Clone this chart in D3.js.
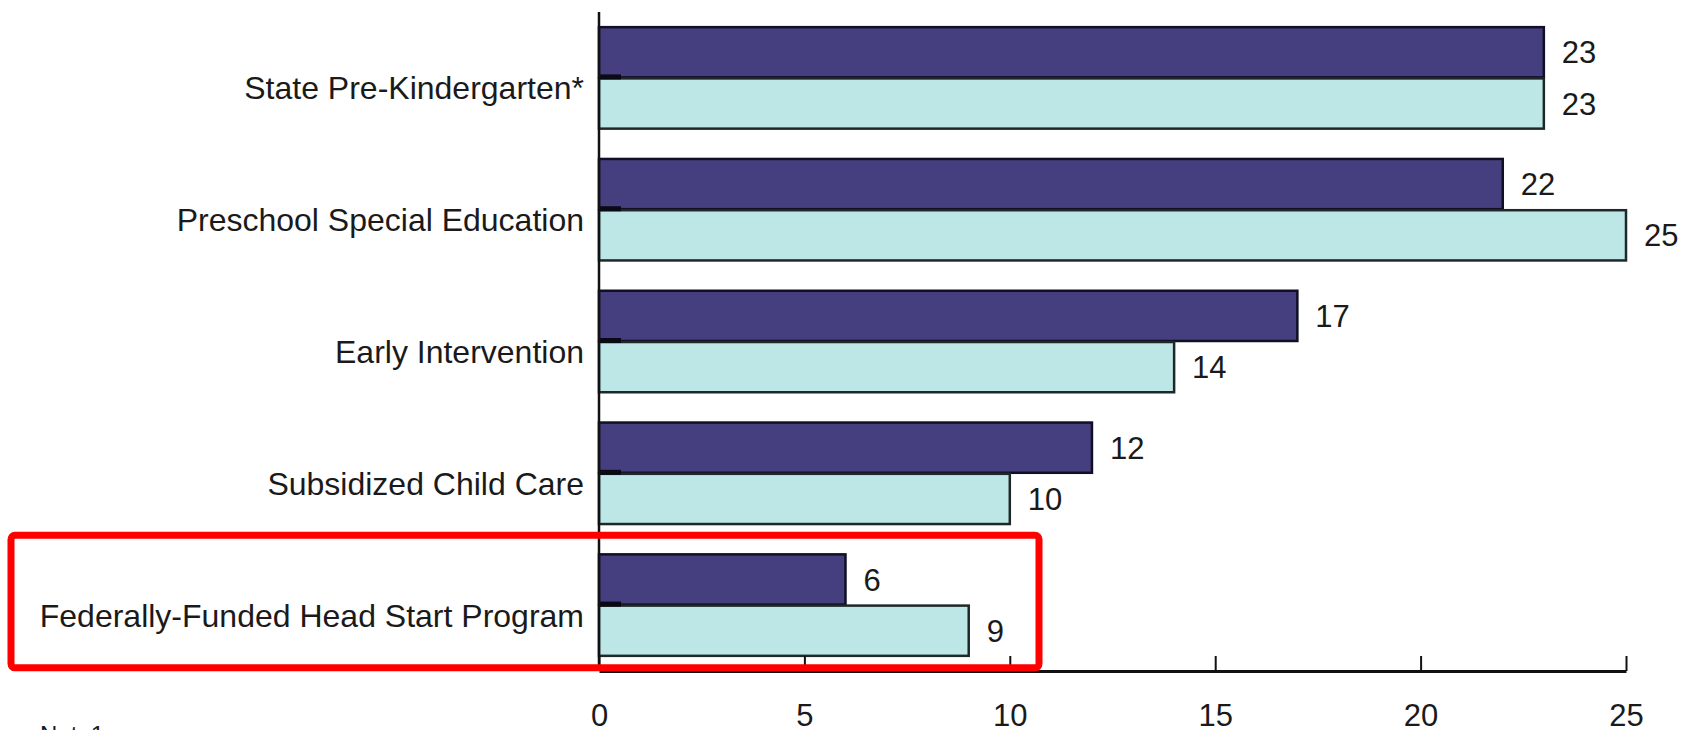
<!DOCTYPE html>
<html lang="en">
<head>
<meta charset="utf-8">
<title>Program bars</title>
<script src="https://d3js.org/d3.v7.min.js"></script>
<style>
  body { margin: 0; background: #fff; overflow: hidden; }
  text { font-family: "Liberation Sans", Arial, sans-serif; fill: #1a1a1a; }
</style>
</head>
<body>
<script>
// data
const categories = ["State Pre-Kindergarten*", "Preschool Special Education", "Early Intervention",
  "Subsidized Child Care", "Federally-Funded Head Start Program"];
const seriesDark = [23, 22, 17, 12, 6];
const seriesLight = [23, 25, 14, 10, 9];
const xTicks = [0, 5, 10, 15, 20, 25];

const width = 1683, height = 730;
const plot = { left: 599, right: 1626, top: 12, bottom: 671 };

const svg = d3.select("body").append("svg")
  .attr("width", width)
  .attr("height", height);

const x = d3.scaleLinear().domain([0, 25]).range([plot.left, plot.right]);
const y = d3.scaleBand().domain(categories).range([plot.top, plot.bottom])
  .paddingInner(0.23).paddingOuter(0.115);
const sub = d3.scaleBand().domain(["dark", "light"]).range([0, y.bandwidth()]).paddingInner(0.02);

const rows = categories.map((c, i) => ({ cat: c, dark: seriesDark[i], light: seriesLight[i] }));

const groups = svg.selectAll("g.row")
  .data(rows)
  .enter().append("g")
  .attr("class", "row")
  .attr("transform", d => "translate(0," + y(d.cat) + ")");

const series = [
  { key: "dark", fill: "#453f80", stroke: "#100f24" },
  { key: "light", fill: "#bde7e6", stroke: "#1f2828" }
];

series.forEach(s => {
  groups.append("rect")
    .attr("x", x(0))
    .attr("y", sub(s.key))
    .attr("width", d => x(d[s.key]) - x(0))
    .attr("height", sub.bandwidth())
    .attr("fill", s.fill)
    .attr("stroke", s.stroke)
    .attr("stroke-width", 2.5);

  groups.append("text")
    .attr("x", d => x(d[s.key]) + 18)
    .attr("y", sub(s.key) + sub.bandwidth() / 2)
    .attr("dy", "0.36em")
    .attr("font-size", 31)
    .text(d => d[s.key]);
});

// little dark shadow where the two bars meet at the axis
groups.append("rect")
  .attr("x", x(0))
  .attr("y", sub("light") - 4)
  .attr("width", 22)
  .attr("height", 5)
  .attr("fill", "#0a0a14");

// category labels
groups.append("text")
  .attr("x", plot.left - 15)
  .attr("y", y.bandwidth() / 2 + 10)
  .attr("dy", "0.36em")
  .attr("text-anchor", "end")
  .attr("font-size", 32)
  .text(d => d.cat);

// axes
svg.append("line")
  .attr("x1", plot.left).attr("x2", plot.left)
  .attr("y1", plot.top).attr("y2", plot.bottom)
  .attr("stroke", "#111").attr("stroke-width", 2.5);

const xAxis = svg.append("g")
  .attr("transform", "translate(0," + plot.bottom + ")")
  .call(d3.axisBottom(x).tickValues(xTicks).tickSizeInner(-15).tickSizeOuter(0).tickPadding(33));
xAxis.select(".domain").attr("stroke", "#111").attr("stroke-width", 3);
xAxis.selectAll(".tick line").attr("stroke", "#111").attr("stroke-width", 2);
xAxis.selectAll(".tick text")
  .attr("font-size", 31)
  .attr("font-family", "'Liberation Sans', Arial, sans-serif")
  .attr("fill", "#1a1a1a");

// note, mostly cut off at the bottom
svg.append("text")
  .attr("x", 40)
  .attr("y", 743)
  .attr("font-size", 24)
  .text("Note1");

// red highlight box round the last category
const last = categories[categories.length - 1];
svg.append("rect")
  .attr("x", 11)
  .attr("y", y(last) - 19)
  .attr("width", 1028)
  .attr("height", y.bandwidth() + 31)
  .attr("rx", 4)
  .attr("fill", "none")
  .attr("stroke", "#ff0000")
  .attr("stroke-width", 7);
</script>
</body>
</html>
